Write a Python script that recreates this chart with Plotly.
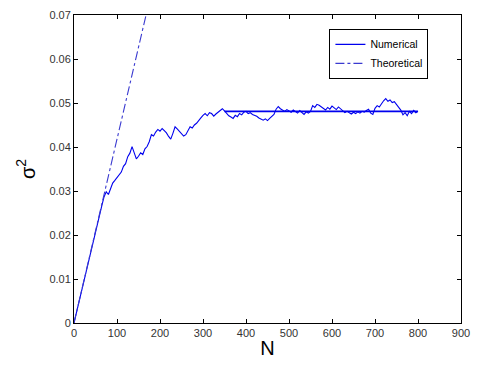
import plotly.graph_objects as go

# ---- data ----
N_num = list(range(0, 801, 5))
sigma2_num = [
    0.0, 0.0021, 0.0040, 0.0063, 0.0085, 0.0104, 0.0127, 0.0148, 0.0168, 0.0190, 0.0212, 0.0230, 0.0252, 0.0268, 0.0287,
    0.0298, 0.0292, 0.0305, 0.0318, 0.0324, 0.0331, 0.0337, 0.0343, 0.0356, 0.0362, 0.0378, 0.0386, 0.0401,
    0.0388, 0.0373, 0.0379, 0.0387, 0.0383, 0.0396, 0.0401, 0.0412, 0.0428, 0.0425, 0.0434, 0.0440, 0.0436,
    0.0442, 0.0437, 0.0432, 0.0424, 0.0418, 0.0431, 0.0446, 0.0441, 0.0436, 0.0430, 0.0425, 0.0428,
    0.0437, 0.0446, 0.0443, 0.0450, 0.0454, 0.0461, 0.0466, 0.0472, 0.0476, 0.0471, 0.0478, 0.0476, 0.0470, 0.0475, 0.0479, 0.0483, 0.0487, 0.0482,
    0.0476, 0.0471, 0.0468, 0.0465, 0.0472, 0.0469, 0.0476, 0.0473, 0.0479, 0.0481, 0.0476, 0.0478, 0.0474, 0.0472,
    0.0470, 0.0466, 0.0463, 0.0461, 0.0464, 0.0460, 0.0465, 0.0469, 0.0474, 0.0486,
    0.0492, 0.0487, 0.0484, 0.0481, 0.0485, 0.0482, 0.0479, 0.0484, 0.0480, 0.0477, 0.0483, 0.0479, 0.0474, 0.0480, 0.0477, 0.0481,
    0.0494, 0.0490, 0.0497, 0.0495, 0.0492, 0.0488, 0.0484, 0.0490, 0.0486, 0.0493, 0.0489, 0.0485, 0.0491, 0.0486,
    0.0482, 0.0478, 0.0481, 0.0477, 0.0475, 0.0479, 0.0476, 0.0480, 0.0477, 0.0481, 0.0479, 0.0483, 0.0486, 0.0477, 0.0474, 0.0488,
    0.0494, 0.0491, 0.0499, 0.0505, 0.0510, 0.0504, 0.0507, 0.0501, 0.0503, 0.0496, 0.0489, 0.0484, 0.0473, 0.0478, 0.0471, 0.0481, 0.0476, 0.0483, 0.0478, 0.0481,
]
assert len(N_num) == len(sigma2_num), (len(N_num), len(sigma2_num))

N_mean = [350, 800]
sigma2_mean = [0.0481, 0.0481]

N_theory = [0, 180]
sigma2_theory = [0.0, 0.0752]

x_ticks = [0, 100, 200, 300, 400, 500, 600, 700, 800, 900]
y_ticks = [0, 0.01, 0.02, 0.03, 0.04, 0.05, 0.06, 0.07]
y_tick_labels = ["0", "0.01", "0.02", "0.03", "0.04", "0.05", "0.06", "0.07"]

fig = go.Figure()
fig.add_trace(go.Scatter(x=N_num, y=sigma2_num, mode="lines", name="Numerical",
                         line=dict(color="#0000ee", width=1.1)))
fig.add_trace(go.Scatter(x=N_mean, y=sigma2_mean, mode="lines", showlegend=False,
                         line=dict(color="#0000ee", width=1.6)))
fig.add_trace(go.Scatter(x=N_theory, y=sigma2_theory, mode="lines", name="Theoretical",
                         line=dict(color="#3a3ad0", width=1.1, dash="dashdot")))

axis_common = dict(showline=True, linecolor="black", linewidth=1, mirror="allticks",
                   ticks="inside", ticklen=4, tickcolor="black", showgrid=False,
                   zeroline=False, tickfont=dict(family="Liberation Sans, Arial", size=11, color="#333333"))

fig.update_layout(
    width=479, height=366,
    margin=dict(l=74, r=9, t=13, b=43),
    paper_bgcolor="white", plot_bgcolor="white",
    font=dict(family="Liberation Sans, Arial", color="black"),
    xaxis=dict(range=[0, 900], tickvals=x_ticks, title=dict(text="N", font=dict(size=20), standoff=2),
               **axis_common),
    yaxis=dict(range=[0, 0.07], tickvals=y_ticks, ticktext=y_tick_labels,
               title=dict(text="σ<sup>2</sup>", font=dict(size=20), standoff=8),
               **axis_common),
    legend=dict(x=0.66, y=0.955, xanchor="left", yanchor="top", bgcolor="white",
                bordercolor="black", borderwidth=1, font=dict(size=10.5),
                tracegroupgap=0, itemwidth=30),
    showlegend=True,
)

fig.write_html("out.html")
